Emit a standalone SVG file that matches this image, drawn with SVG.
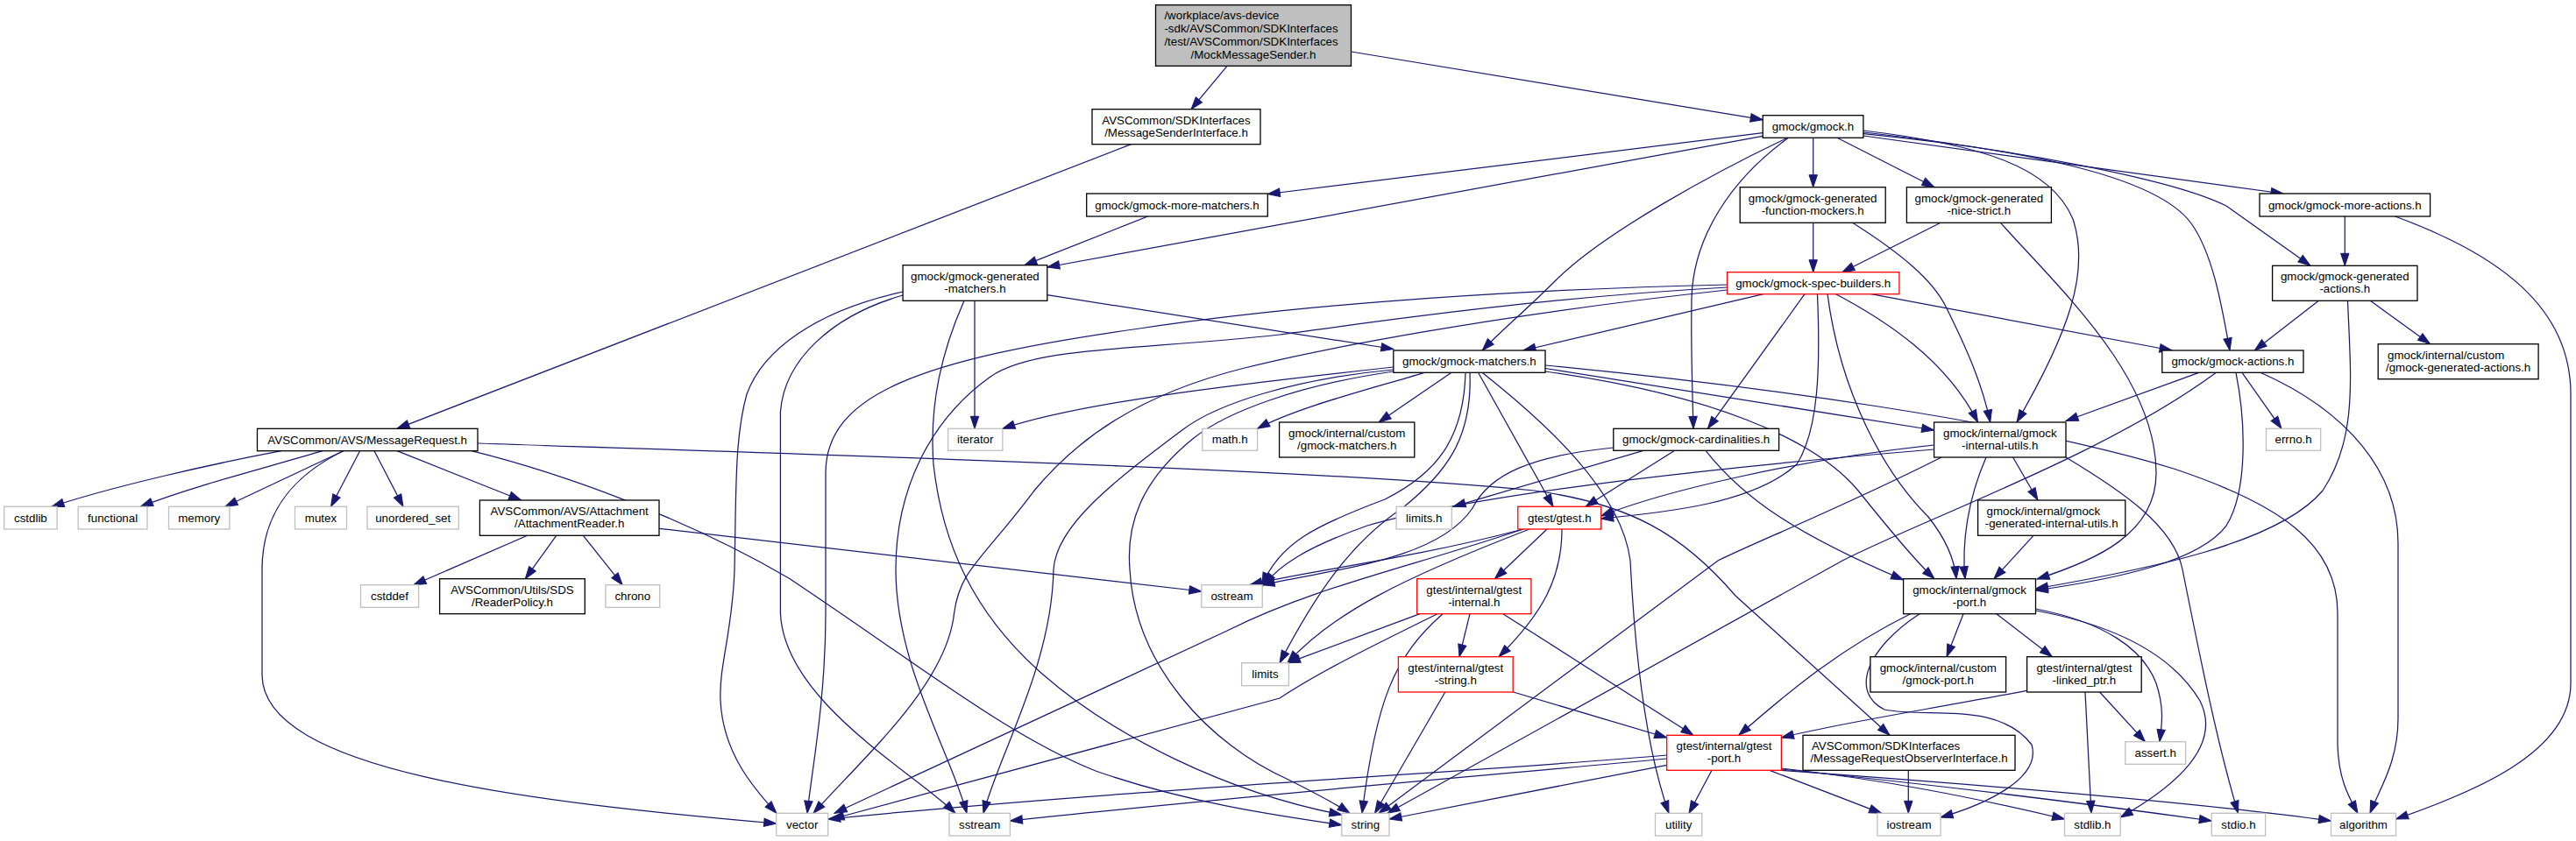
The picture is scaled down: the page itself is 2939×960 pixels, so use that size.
<svg xmlns="http://www.w3.org/2000/svg" width="2939" height="960" viewBox="0 0 2939 960">
<style>
text{font-family:"Liberation Sans",Arial,Helvetica,sans-serif;font-size:13.33px;fill:#000}
.c{text-anchor:middle}
.nd{fill:#fff;stroke:#000;stroke-width:1.3}
.ex{fill:#fff;stroke:#bfbfbf;stroke-width:1.3}
.tr{fill:#fff;stroke:#ff0000;stroke-width:1.3}
.mn{fill:#bfbfbf;stroke:#000;stroke-width:1.3}
#edges path{fill:none;stroke:#191970;stroke-width:1.25;marker-end:url(#ah)}
</style>
<defs>
<marker id="ah" markerUnits="userSpaceOnUse" markerWidth="14" markerHeight="10" refX="14" refY="5" orient="auto" overflow="visible">
<path d="M0,0.3 L14,5 L0,9.7 z" fill="#191970" stroke="#191970" stroke-width="1"/>
</marker>
</defs>
<rect width="2939" height="960" fill="#fff"/>
<g id="edges">
<path d="M1400,75.3 L1359,124.7"/>
<path d="M1541.6,59 L2011.2,136.7"/>
<path d="M1290.6,164.7 L453,489.3"/>
<path d="M2011.2,151.7 L1446.3,221.5"/>
<path d="M2011.2,155.3 L1194.8,305"/>
<path d="M2039.5,157.3 C1960,195 1830,265 1775,320 C1740,355 1710,380 1691.2,400"/>
<path d="M2040.4,157.3 C1975,205 1932,270 1930,340 C1929,400 1931,450 1932,489.3"/>
<path d="M2068.7,157.3 L2068.7,213.7"/>
<path d="M2096,157.3 L2207,213.7"/>
<path d="M2125.9,149 C2260,165 2340,190 2365,250 C2385,310 2360,380 2301,482"/>
<path d="M2125.9,151 C2310,172 2460,200 2500,255 C2525,290 2535,350 2544,400"/>
<path d="M2125.9,152.7 C2300,170 2480,205 2540,235 L2636,303.3"/>
<path d="M2125.9,155 L2605,221"/>
<path d="M1309.5,247 L1168.9,302.7"/>
<path d="M2068.7,254.3 L2068.7,310.7"/>
<path d="M2113.6,254.3 C2170,290 2205,320 2220,350 C2245,400 2262,440 2270.7,482"/>
<path d="M2214,254.3 L2101.8,310.7"/>
<path d="M2282.5,254.3 C2350,330 2460,430 2460,540 C2460,610 2390,640 2324,661"/>
<path d="M2675.3,247 L2675.3,303.3"/>
<path d="M2732.6,247 C2850,290 2933,350 2933,450 L2933,780 C2933,860 2820,905 2733.5,935"/>
<path d="M2645.4,343.3 L2572.3,400"/>
<path d="M2704.3,343.3 L2772.6,392.7"/>
<path d="M2678.5,343.3 C2682,430 2690,500 2650,560 C2600,620 2450,650 2322.5,672"/>
<path d="M2508.7,425.3 L2357,480.5"/>
<path d="M2558,425.3 L2603,489.3"/>
<path d="M2579,425.3 C2680,470 2736,540 2736,620 L2736,820 C2736,870 2715,900 2704,928.3"/>
<path d="M2551,425.3 C2562,480 2565,560 2540,600 C2510,640 2420,660 2322.5,674"/>
<path d="M2528.5,425.3 C2400,520 2200,590 2102,640 L1583,928.3"/>
<path d="M1194.8,336.7 L1589.8,398.5"/>
<path d="M1030.1,333 C930,355 870,400 852,450 C838,500 840,560 838,650 C836,720 820,760 822,800 C825,860 860,900 886,928.3"/>
<path d="M1030.1,337 C950,360 895,410 890.4,470 L890.4,700 C895,800 1040,880 1090,928.3"/>
<path d="M1112,343.3 L1112,489.3"/>
<path d="M1100,343.3 C1075,400 1060,460 1065,530 C1075,620 1110,700 1190,770 C1270,840 1400,905 1530.8,930"/>
<path d="M2012,335.7 L1738,400"/>
<path d="M2059,335.7 L1948.4,489.3"/>
<path d="M2134.8,335.7 L2478,400"/>
<path d="M2094.7,335.7 C2150,365 2220,410 2256.6,482"/>
<path d="M2073.5,335.7 C2077,420 2075,490 2050,530 C2000,575 1900,585 1826.7,592"/>
<path d="M2085,335.7 C2100,450 2150,540 2200,590 C2220,615 2230,640 2232,660.7"/>
<path d="M1970.6,325 C1750,330 1500,345 1300,375 C1050,410 942,450 942,540 L942,700 C942,800 926,880 921,928.3"/>
<path d="M1970.6,328 C1750,340 1550,370 1460,382 C1300,400 1180,395 1130,430 C1060,480 1022,560 1022,650 C1022,760 1085,860 1103,928.3"/>
<path d="M1970.6,331 C1700,360 1500,400 1420,420 C1300,450 1230,500 1180,560 C1120,640 1095,650 1088.6,700 C1080,780 990,860 928,928.3"/>
<path d="M1763,417 C2000,440 2300,480 2480,535 C2600,575 2667,620 2667,700 L2667,850 C2668,890 2680,910 2690,928.3"/>
<path d="M1763,420.5 L2206.6,491"/>
<path d="M1763,424 C1950,450 2070,500 2120,560 C2160,610 2185,640 2207,660.7"/>
<path d="M1656,425.3 L1573,482"/>
<path d="M1686.5,425.3 L1772,578.3"/>
<path d="M1691,425.3 C1760,480 1850,560 1860,640 C1866,760 1880,860 1904,928.3"/>
<path d="M1589.8,419 C1400,440 1230,460 1143.9,489.3"/>
<path d="M1625,425.3 C1560,445 1480,465 1434.6,489.3"/>
<path d="M1677,425.3 C1680,500 1650,540 1600,580 C1540,620 1500,680 1460,756.7"/>
<path d="M1672,425.3 C1670,500 1640,540 1580,570 C1500,600 1460,620 1440,667.7"/>
<path d="M1589.8,422 C1480,432 1390,460 1350,490 C1270,550 1205,600 1202,650 C1200,760 1140,860 1122,928.3"/>
<path d="M1589.8,424 C1480,440 1400,470 1362,500 C1300,550 1285,600 1289,650 C1295,760 1380,850 1470,890 C1500,905 1520,915 1540,928.3"/>
<path d="M1875,514.3 L1658,578.3"/>
<path d="M1840.8,511 C1750,520 1700,540 1680,580 C1640,640 1520,650 1440,667.7"/>
<path d="M1910.7,514.3 L1809,578.3"/>
<path d="M1946,514.3 C1990,570 2050,610 2171.6,662"/>
<path d="M1738,604 C1600,640 1500,650 1426,667.7"/>
<path d="M1738,604 C1600,650 1500,670 1400,720 L952,928.3"/>
<path d="M1745,604 C1600,660 1520,700 1469,756.7"/>
<path d="M1765,604 L1705.4,660.7"/>
<path d="M1782,604 C1782,660 1760,700 1710,749.7"/>
<path d="M1677,700.7 L1665,749.7"/>
<path d="M1714.8,700.7 L1932,839.3"/>
<path d="M1620,700.7 L1469.4,756.7"/>
<path d="M1640,700.7 C1560,740 1500,770 1460,797 L949,935"/>
<path d="M1646,700.7 C1590,750 1570,800 1554,928.3"/>
<path d="M1648.8,790 L1568.5,928.3"/>
<path d="M1726.6,790 L1901.7,842"/>
<path d="M1901.7,862 C1700,880 1300,900 944.7,935"/>
<path d="M1901.7,866 C1700,885 1400,910 1152.4,937"/>
<path d="M1901.7,873.3 L1585,935"/>
<path d="M1953,879.3 L1927,928.3"/>
<path d="M2019,879.3 L2146.6,928.3"/>
<path d="M2032.4,877 C2150,890 2250,910 2355.5,935"/>
<path d="M2032.4,878 C2200,895 2400,920 2523.3,937"/>
<path d="M2032.4,879.3 C2250,895 2500,915 2659.5,937"/>
<path d="M2177.3,879.3 L2177.3,928.3"/>
<path d="M2240,700.7 L2221,749.7"/>
<path d="M2277.8,700.7 L2341.4,749.7"/>
<path d="M2179.6,700.7 C2100,740 2040,790 1983.8,839.3"/>
<path d="M2322.5,695 C2400,710 2445,740 2460,780 C2470,810 2466,830 2464,846.7"/>
<path d="M2322.5,697 C2420,715 2480,750 2510,800 C2540,860 2460,910 2419.2,933"/>
<path d="M2190,700.7 C2130,740 2110,790 2150,810 C2200,820 2280,800 2318,850 C2330,890 2260,920 2214,933"/>
<path d="M2312.6,788.3 C2200,810 2100,825 2032.4,842"/>
<path d="M2379,790 L2386,928.3"/>
<path d="M2395.6,790 L2447.4,846.7"/>
<path d="M2320,611.3 L2275,660.7"/>
<path d="M2266,522 C2245,570 2238,620 2242,660.7"/>
<path d="M2296.6,522 L2325,571"/>
<path d="M2357,522 C2420,560 2480,600 2490,650 C2510,750 2530,850 2553.5,928.3"/>
<path d="M2206.6,508 C2050,525 1900,560 1826.7,589"/>
<path d="M2206.6,513 C2000,530 1700,560 1560,600 C1490,625 1460,645 1442,667.7"/>
<path d="M2215,522 C2100,580 2000,620 1960,640 L1573,928.3"/>
<path d="M321,514.7 C240,530 130,555 59,578.3"/>
<path d="M368,514.7 C300,535 220,555 160.4,578.3"/>
<path d="M391.7,514.7 L257,578.3"/>
<path d="M391.7,514.7 C340,540 299,580 299,650 L299,770 C299,880 600,915 885.7,940"/>
<path d="M410.6,514.7 L377.5,578.3"/>
<path d="M427,514.7 L460,578.3"/>
<path d="M453,514.7 L594.6,571"/>
<path d="M538,514.7 C640,540 780,590 900,660 C1050,760 1150,840 1250,880 C1350,915 1450,930 1530.8,941.7"/>
<path d="M545,506 C900,518 1500,535 1750,560 C1860,575 1920,610 1980,680 L2156,839.3"/>
<path d="M601.7,611.3 L471.9,667.7"/>
<path d="M634.7,611.3 L599.3,660.7"/>
<path d="M665.4,611.3 L710.2,667.7"/>
<path d="M752.2,603.3 L1370.8,675"/>
</g>
<g id="n_main"><rect class="mn" x="1318.5" y="5.7" width="223" height="69.6"/><text x="1328.4" y="22">/workplace/avs-device</text><text x="1328.4" y="37">-sdk/AVSCommon/SDKInterfaces</text><text x="1328.4" y="51.5">/test/AVSCommon/SDKInterfaces</text><text class="c" x="1430" y="66.5">/MockMessageSender.h</text></g>
<g id="n_msi"><rect class="nd" x="1246" y="124.7" width="192" height="40"/><text class="c" x="1342" y="141.7">AVSCommon/SDKInterfaces</text><text class="c" x="1342" y="155.7">/MessageSenderInterface.h</text></g>
<g id="n_gmock"><rect class="nd" x="2011.2" y="131.7" width="114.7" height="25.6"/><text class="c" x="2068.5" y="149">gmock/gmock.h</text></g>
<g id="n_moreM"><rect class="nd" x="1239.7" y="221" width="206.6" height="26"/><text class="c" x="1343" y="238.5">gmock/gmock-more-matchers.h</text></g>
<g id="n_fm"><rect class="nd" x="1985.2" y="213.7" width="166" height="40.6"/><text class="c" x="2068.2" y="231">gmock/gmock-generated</text><text class="c" x="2068.2" y="245">-function-mockers.h</text></g>
<g id="n_ns"><rect class="nd" x="2175.4" y="213.7" width="165" height="40.6"/><text class="c" x="2257.9" y="231">gmock/gmock-generated</text><text class="c" x="2257.9" y="245">-nice-strict.h</text></g>
<g id="n_moreA"><rect class="nd" x="2578" y="221" width="194.6" height="26"/><text class="c" x="2675.3" y="238.5">gmock/gmock-more-actions.h</text></g>
<g id="n_genM"><rect class="nd" x="1030.1" y="302.7" width="164.7" height="40.6"/><text class="c" x="1112.4" y="320">gmock/gmock-generated</text><text class="c" x="1112.4" y="334">-matchers.h</text></g>
<g id="n_sb"><rect class="tr" x="1970.6" y="310.7" width="196.3" height="25"/><text class="c" x="2068.7" y="327.7">gmock/gmock-spec-builders.h</text></g>
<g id="n_genA"><rect class="nd" x="2592.6" y="303.3" width="165.4" height="40"/><text class="c" x="2675.3" y="320.3">gmock/gmock-generated</text><text class="c" x="2675.3" y="334.3">-actions.h</text></g>
<g id="n_matchers"><rect class="nd" x="1589.8" y="400" width="173.2" height="25.3"/><text class="c" x="1676.4" y="417.2">gmock/gmock-matchers.h</text></g>
<g id="n_actions"><rect class="nd" x="2466.8" y="400" width="161.2" height="25.3"/><text class="c" x="2547.4" y="417.2">gmock/gmock-actions.h</text></g>
<g id="n_cga"><rect class="nd" x="2713.2" y="392.7" width="182.9" height="40"/><text x="2724" y="409.7">gmock/internal/custom</text><text class="c" x="2804.6" y="423.7">/gmock-generated-actions.h</text></g>
<g id="n_mr"><rect class="nd" x="293.5" y="489.3" width="251.5" height="25.4"/><text class="c" x="419.2" y="506.5">AVSCommon/AVS/MessageRequest.h</text></g>
<g id="n_iterator"><rect class="ex" x="1081.6" y="489.3" width="62.3" height="25"/><text class="c" x="1112.7" y="506.3">iterator</text></g>
<g id="n_math"><rect class="ex" x="1371.8" y="489.3" width="62.8" height="25"/><text class="c" x="1403.2" y="506.3">math.h</text></g>
<g id="n_cm"><rect class="nd" x="1459.6" y="482" width="154.2" height="40"/><text class="c" x="1536.7" y="499">gmock/internal/custom</text><text class="c" x="1536.7" y="513">/gmock-matchers.h</text></g>
<g id="n_card"><rect class="nd" x="1840.8" y="489.3" width="188.8" height="25"/><text class="c" x="1935.2" y="506.3">gmock/gmock-cardinalities.h</text></g>
<g id="n_iu"><rect class="nd" x="2206.6" y="482" width="150.4" height="40"/><text class="c" x="2281.8" y="499">gmock/internal/gmock</text><text class="c" x="2281.8" y="513">-internal-utils.h</text></g>
<g id="n_errno"><rect class="ex" x="2585.5" y="489.3" width="62.2" height="25"/><text class="c" x="2616.6" y="506.3">errno.h</text></g>
<g id="n_cstdlib"><rect class="ex" x="4.7" y="578.3" width="60.4" height="25.7"/><text class="c" x="34.9" y="595.7">cstdlib</text></g>
<g id="n_functional"><rect class="ex" x="89.2" y="578.3" width="78.8" height="25.7"/><text class="c" x="128.6" y="595.7">functional</text></g>
<g id="n_memory"><rect class="ex" x="192.5" y="578.3" width="69.4" height="25.7"/><text class="c" x="227.2" y="595.7">memory</text></g>
<g id="n_mutex"><rect class="ex" x="336.5" y="578.3" width="59" height="25.7"/><text class="c" x="366" y="595.7">mutex</text></g>
<g id="n_uset"><rect class="ex" x="419" y="578.3" width="104.3" height="25.7"/><text class="c" x="471.2" y="595.7">unordered_set</text></g>
<g id="n_ar"><rect class="nd" x="547.4" y="571" width="204.6" height="40.3"/><text class="c" x="649.7" y="588">AVSCommon/AVS/Attachment</text><text class="c" x="649.7" y="602">/AttachmentReader.h</text></g>
<g id="n_limitsh"><rect class="ex" x="1593.1" y="578.3" width="63.2" height="25.7"/><text class="c" x="1624.7" y="595.7">limits.h</text></g>
<g id="n_gtest"><rect class="tr" x="1731.8" y="578.3" width="94.9" height="25.7"/><text class="c" x="1779.3" y="595.7">gtest/gtest.h</text></g>
<g id="n_giu"><rect class="nd" x="2256.6" y="571" width="168.2" height="40.3"/><text x="2266.5" y="588">gmock/internal/gmock</text><text class="c" x="2340.7" y="602">-generated-internal-utils.h</text></g>
<g id="n_cstddef"><rect class="ex" x="411.5" y="667.7" width="66.1" height="25.6"/><text class="c" x="444.5" y="685">cstddef</text></g>
<g id="n_rp"><rect class="nd" x="501.6" y="660.7" width="165.7" height="40"/><text class="c" x="584.5" y="677.7">AVSCommon/Utils/SDS</text><text class="c" x="584.5" y="691.7">/ReaderPolicy.h</text></g>
<g id="n_chrono"><rect class="ex" x="690.9" y="667.7" width="61.8" height="25.6"/><text class="c" x="721.8" y="685">chrono</text></g>
<g id="n_ostream"><rect class="ex" x="1370.8" y="667.7" width="69.4" height="25.6"/><text class="c" x="1405.5" y="685">ostream</text></g>
<g id="n_gti"><rect class="tr" x="1616.7" y="660.7" width="130.2" height="40"/><text class="c" x="1681.8" y="677.7">gtest/internal/gtest</text><text class="c" x="1681.8" y="691.7">-internal.h</text></g>
<g id="n_gport"><rect class="nd" x="2171.6" y="660.7" width="150.9" height="40"/><text class="c" x="2247" y="677.7">gmock/internal/gmock</text><text class="c" x="2247" y="691.7">-port.h</text></g>
<g id="n_limits"><rect class="ex" x="1416.6" y="756.7" width="53.8" height="26"/><text class="c" x="1443.5" y="774.2">limits</text></g>
<g id="n_gts"><rect class="tr" x="1595.4" y="749.7" width="130.8" height="40.3"/><text class="c" x="1660.8" y="766.7">gtest/internal/gtest</text><text class="c" x="1660.8" y="780.7">-string.h</text></g>
<g id="n_cgp"><rect class="nd" x="2133.9" y="749.7" width="154.7" height="40.3"/><text class="c" x="2211.3" y="766.7">gmock/internal/custom</text><text class="c" x="2211.3" y="780.7">/gmock-port.h</text></g>
<g id="n_lp"><rect class="nd" x="2312.6" y="749.7" width="130.6" height="40.3"/><text class="c" x="2377.9" y="766.7">gtest/internal/gtest</text><text class="c" x="2377.9" y="780.7">-linked_ptr.h</text></g>
<g id="n_gtp"><rect class="tr" x="1901.7" y="839.3" width="130.7" height="40"/><text class="c" x="1967" y="856.3">gtest/internal/gtest</text><text class="c" x="1967" y="870.3">-port.h</text></g>
<g id="n_mro"><rect class="nd" x="2057" y="839.3" width="242" height="40"/><text x="2066.9" y="856.3">AVSCommon/SDKInterfaces</text><text class="c" x="2178" y="870.3">/MessageRequestObserverInterface.h</text></g>
<g id="n_assert"><rect class="ex" x="2424.8" y="846.7" width="68.8" height="25.6"/><text class="c" x="2459.2" y="864">assert.h</text></g>
<g id="n_vector"><rect class="ex" x="885.7" y="928.3" width="59" height="25.7"/><text class="c" x="915.2" y="945.7">vector</text></g>
<g id="n_sstream"><rect class="ex" x="1083" y="928.3" width="69.4" height="25.7"/><text class="c" x="1117.7" y="945.7">sstream</text></g>
<g id="n_string"><rect class="ex" x="1530.8" y="928.3" width="54.2" height="25.7"/><text class="c" x="1557.9" y="945.7">string</text></g>
<g id="n_utility"><rect class="ex" x="1888.5" y="928.3" width="53.3" height="25.7"/><text class="c" x="1915.2" y="945.7">utility</text></g>
<g id="n_iostream"><rect class="ex" x="2141.9" y="928.3" width="72.2" height="25.7"/><text class="c" x="2178" y="945.7">iostream</text></g>
<g id="n_stdlib"><rect class="ex" x="2355.5" y="928.3" width="63.7" height="25.7"/><text class="c" x="2387.4" y="945.7">stdlib.h</text></g>
<g id="n_stdio"><rect class="ex" x="2523.3" y="928.3" width="61.3" height="25.7"/><text class="c" x="2554" y="945.7">stdio.h</text></g>
<g id="n_algorithm"><rect class="ex" x="2659.5" y="928.3" width="74" height="25.7"/><text class="c" x="2696.5" y="945.7">algorithm</text></g>
</svg>
